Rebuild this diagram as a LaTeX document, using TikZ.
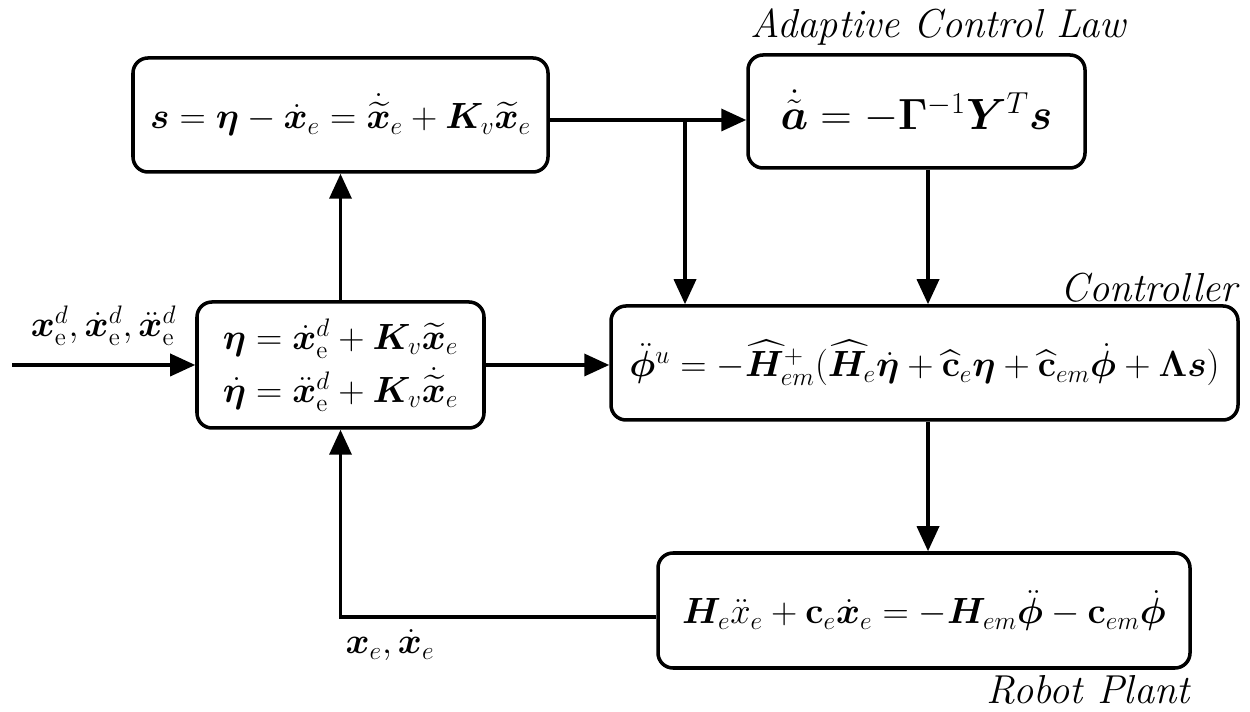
\documentclass[tikz,border=0pt]{standalone}
\usepackage{amsmath,bm}
\usetikzlibrary{arrows.meta}
\begin{document}
\begin{tikzpicture}[
  every node/.style={font=\fontsize{20}{24}\selectfont, inner sep=0pt},
  blk/.style={draw, rounded corners=0.3cm, line width=2pt},
  sig/.style={-{Triangle[length=0.5cm,width=0.44cm]}, line width=2pt},
  tag/.style={font=\fontsize{23}{27}\selectfont\itshape},
]
  \useasboundingbox (0,0) rectangle (25,14.24);
  % Blocks
  \node[blk, minimum width=8.3cm, minimum height=2.28cm] (sdef) at (6.81,11.94)
    {$\bm s=\bm\eta-\dot{\bm x}_e=\dot{\widetilde{\bm x}}_e+\bm K_v\widetilde{\bm x}_e$};
  \node[blk, minimum width=6.74cm, minimum height=2.26cm, font=\fontsize{24}{28}\selectfont] (adapt) at (18.33,12.01)
    {$\dot{\tilde{\bm a}}=-\bm\Gamma^{-1}\bm Y^T\bm s$};
  \node[blk, minimum width=5.74cm, minimum height=2.52cm, align=center, font=\fontsize{20}{30}\selectfont] (eta) at (6.81,6.94)
    {$\bm\eta=\dot{\bm x}^d_{\mathrm e}+\bm K_v\widetilde{\bm x}_e$\\
     $\dot{\bm\eta}=\ddot{\bm x}^d_{\mathrm e}+\bm K_v\dot{\widetilde{\bm x}}_e$};
  \node[blk, minimum width=12.54cm, minimum height=2.28cm] (ctrl) at (18.49,6.98)
    {$\ddot{\bm\phi}^u=-\widehat{\bm H}^{+}_{em}(\widehat{\bm H}_e\dot{\bm\eta}+\widehat{\mathbf c}_e\bm\eta+\widehat{\mathbf c}_{em}\dot{\bm\phi}+\bm\Lambda\bm s)$};
  \node[blk, minimum width=10.64cm, minimum height=2.3cm] (plant) at (18.48,2.03)
    {$\bm H_e\ddot{x}_e+\mathbf c_e\dot{\bm x}_e=-\bm H_{em}\ddot{\bm\phi}-\mathbf c_{em}\dot{\bm\phi}$};
  % Titles
  \node[tag] (adapttag) at (18.76,13.7) {Adaptive Control Law};
  \node[tag, anchor=east] (ctrltag) at (24.76,8.48) {Controller};
  \node[tag, anchor=east] (planttag) at (23.8,0.44) {Robot Plant};
  % Signals
  \coordinate (in) at (0.24,6.94);
  \coordinate (sy) at (0,11.84);
  \coordinate (br) at (13.7,11.84);
  \draw[sig] (in) -- node[above=0.35cm] (inlbl)
    {$\bm x^d_{\mathrm e},\dot{\bm x}^d_{\mathrm e},\ddot{\bm x}^d_{\mathrm e}$} (eta.west);
  \draw[sig] (eta.north) -- (sdef.south);
  \draw[sig] (sdef.east |- sy) -- (adapt.west |- sy);
  \draw[sig] (br) -- (br |- ctrl.north);
  \draw[sig] ([xshift=0.23cm]adapt.south) -- ([xshift=0.23cm]adapt.south |- ctrl.north);
  \draw[sig] (eta.east) -- (eta.east -| ctrl.west);
  \draw[sig] ([xshift=0.07cm]ctrl.south) -- ([xshift=0.07cm]ctrl.south |- plant.north);
  \draw[sig] ([yshift=-0.13cm]plant.west) -- ([yshift=-0.13cm]plant.west -| eta.south) -- (eta.south);
  % Feedback label
  \node (fblbl) at (7.8,1.34) {$\bm x_e,\dot{\bm x}_e$};
\end{tikzpicture}
\end{document}
